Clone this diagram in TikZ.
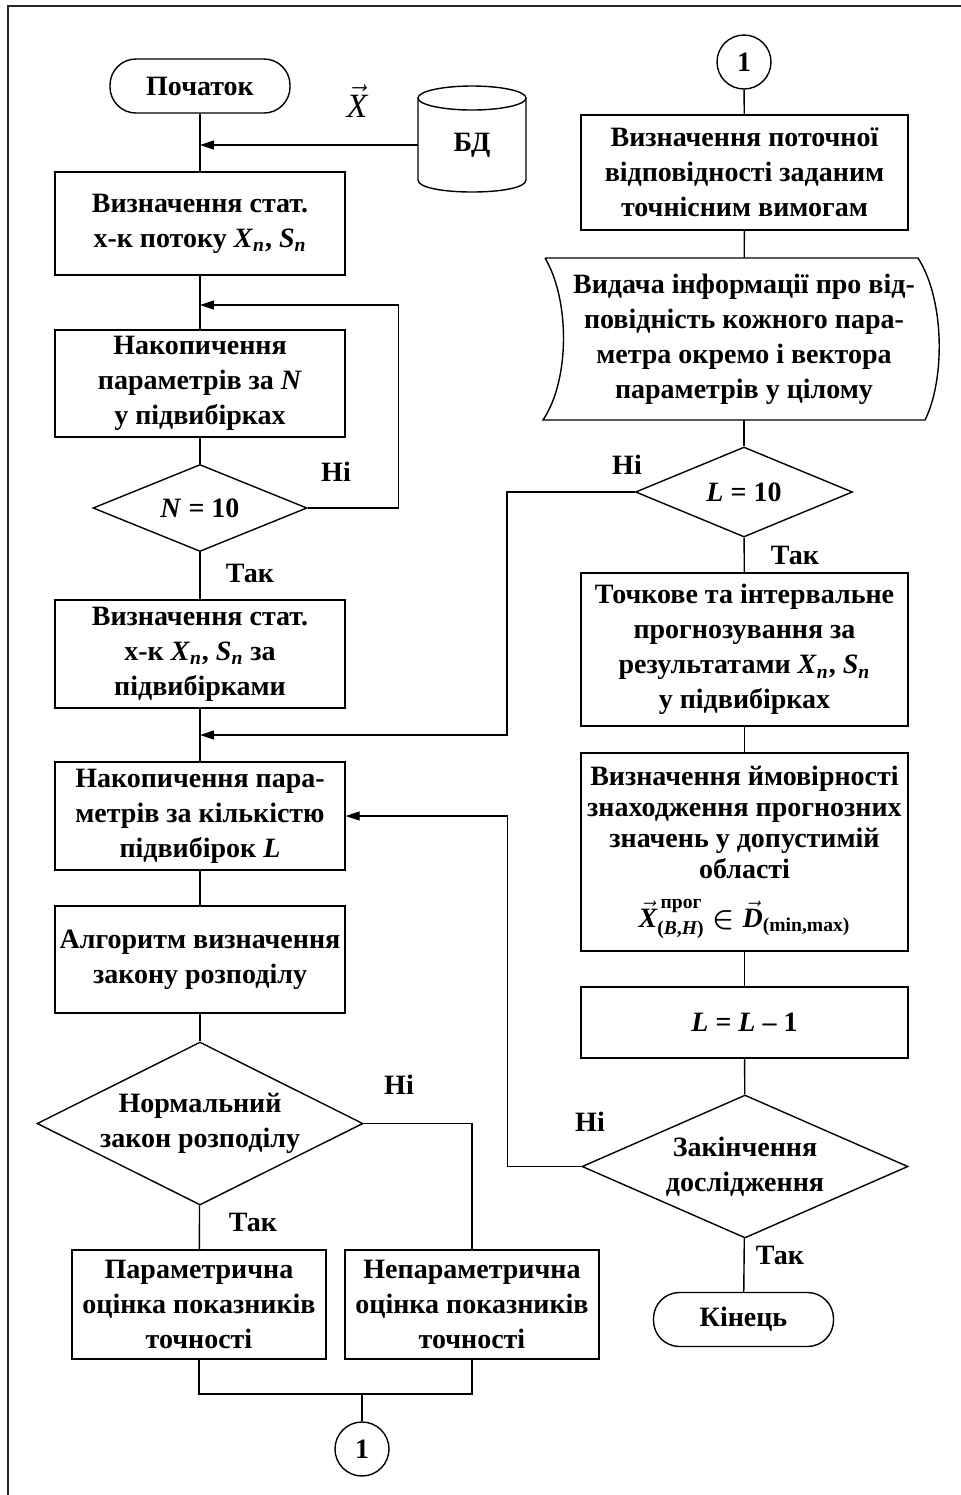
\documentclass[tikz,border=0pt]{standalone}
\usepackage{fontspec}
\setmainfont{Liberation Serif}
\usepackage{amsmath}
\usepackage{tikz}
\usetikzlibrary{arrows.meta,positioning,shapes.geometric}

\newcommand{\vsub}[2]{\textit{#1}\textsubscript{\textit{#2}}}

\begin{document}
\begin{tikzpicture}[
  x=0.5pt, y=-0.5pt,
  every node/.style={font=\fontsize{14}{17.5}\selectfont\bfseries},
  blk/.style={draw,line width=0.7pt,align=center,inner sep=1pt},
  lblk/.style={blk,minimum width=145pt},
  rblk/.style={blk,minimum width=163.5pt},
  term/.style={blk,rounded corners=13pt,minimum width=90pt,minimum height=27pt},
  dec/.style={blk,diamond,inner sep=0pt},
  dtxt/.style={align=center,inner sep=0pt},
  con/.style={blk,circle,minimum size=27pt,inner sep=0pt},
  line/.style={line width=0.7pt},
  arr/.style={line,-{Triangle[length=7pt,width=4.5pt]}},
  lab/.style={inner sep=0pt},
  frm/.style={line width=1pt,black!85}
]
\useasboundingbox (0,0) rectangle (960,1495);
\draw[frm] (8,1497) -- (8,6) -- (962,6);

% left column
\node[term] (start) at (200,86) {Початок};
\node[lblk,minimum height=51.5pt] (stat1) at (200,223.5)
  {Визначення стат.\\х-к потоку \vsub{X}{n}, \vsub{S}{n}};
\node[lblk,minimum height=53.5pt] (accN) at (200,383.5)
  {Накопичення\\параметрів за \textit{N}\\у підвибірках};
\node[dec,minimum width=107pt,minimum height=43.5pt,
  label={[dtxt]center:\textit{N} = 10}] (decN) at (200,508) {};
\node[lblk,minimum height=54pt] (stat2) at (200,654)
  {Визначення стат.\\х-к \vsub{X}{n}, \vsub{S}{n} за\\підвибірками};
\node[lblk,minimum height=54pt] (accL) at (200,816)
  {Накопичення пара-\\метрів за кількістю\\підвибірок \textit{L}};
\node[lblk,minimum height=53.5pt] (alg) at (200,959.5)
  {Алгоритм визначення\\закону розподілу};
\node[dec,minimum width=163pt,minimum height=81.5pt,
  label={[dtxt]center:Нормальний\\закон розподілу}] (decNorm) at (200,1123.5) {};
\node[blk,minimum width=127pt,minimum height=54.5pt] (par) at (199,1304.5)
  {Параметрична\\оцінка показників\\точності};
\node[blk,minimum width=127pt,minimum height=54.5pt] (nonpar) at (472,1304.5)
  {Непараметрична\\оцінка показників\\точності};
\node[con] (con2) at (362,1449) {1};

% data base
\node[minimum width=54pt,minimum height=47pt] (db) at (472,145) {БД};
\draw[line] (418,98) -- (418,180) .. controls (418,196) and (526,196) .. (526,180)
  -- (526,98);
\draw[line] (472,98) ellipse [x radius=54,y radius=12];
\node[font=\fontsize{17}{18}\selectfont,inner sep=0pt] (xvec) at (357,101)
  {$\vec{\text{\itshape X}}$};

% right column
\node[con] (con1) at (744,62) {1};
\node[rblk,minimum height=57.5pt] (curr) at (744.5,172.5)
  {Визначення поточної\\відповідності заданим\\точнісним вимогам};
\node[align=center,minimum width=175pt,minimum height=81pt,inner sep=0pt] (disp) at (744,339)
  {Видача інформації про від-\\повідність кожного пара-\\метра окремо і вектора\\параметрів у цілому};
\draw[line] (545,258) -- (918,258) .. controls (945,300) and (945,380) .. (925,420)
  -- (543,420) .. controls (570,380) and (570,300) .. (545,258);
\node[dec,minimum width=108.5pt,minimum height=45pt,
  label={[dtxt]center:\textit{L} = 10}] (decL) at (744,492) {};
\node[rblk,minimum height=76.5pt] (fcast) at (744.5,649.5)
  {Точкове та інтервальне\\прогнозування за\\результатами \vsub{X}{n}, \vsub{S}{n}\\у підвибірках};
\node[rblk,minimum height=99pt,font=\fontsize{14}{15.5}\selectfont\bfseries] (prob) at (744.5,852)
  {Визначення ймовірності\\знаходження прогнозних\\значень у допустимій\\області\\[9pt]
   $\vec{\text{\itshape X}}^{\,\text{прог}}_{\text{(\itshape B\upshape,\itshape H\upshape)}}
   \boldsymbol{\in} \vec{\text{\itshape D}}_{\text{(min,max)}}$};
\node[rblk,minimum height=35.5pt] (decr) at (744.5,1022.5)
  {\textit{L} = \textit{L} – 1};
\node[dec,minimum width=163pt,minimum height=71.5pt,
  label={[dtxt]center:Закінчення\\дослідження}] (decEnd) at (745,1166.5) {};
\node[term] (stop) at (743.5,1319.5) {Кінець};

% joins
\coordinate (jDB) at (200,145);
\coordinate (jN) at (200,305);
\coordinate (jL) at (200,735);
\coordinate (mg) at (362,1394);

% main flow
\draw[line] (start) -- (stat1);
\draw[line] (stat1) -- (accN);
\draw[line] (accN) -- (decN);
\draw[line] (decN) -- (stat2);
\draw[line] (stat2) -- (accL);
\draw[line] (accL) -- (alg);
\draw[line] (alg) -- (decNorm);
\draw[line] (decNorm) -- (par);
\draw[line] (decNorm.east) -| (nonpar.north);
\draw[line] (par.south) |- (mg) -| (nonpar.south);
\draw[line] (mg) -- (con2);

\draw[line] (con1) -- (curr);
\draw[line] (curr) -- (disp);
\draw[line] (disp) -- (decL);
\draw[line] (decL) -- (fcast);
\draw[line] (fcast) -- (prob);
\draw[line] (prob) -- (decr);
\draw[line] (decr) -- (decEnd);
\draw[line] (decEnd) -- (stop);

% loops
\draw[arr] (db.west) -- (jDB);
\draw[arr] (decN.east) -- ++(91,0) |- (jN);
\draw[arr] (decL.west) -- ++(-128,0) |- (jL);
\draw[arr] (decEnd.west) -- ++(-74,0) |- (accL.east);

% labels
\node[lab] (noN) at (336,472) {Ні};
\node[lab] (yesN) at (250,573) {Так};
\node[lab] (noL) at (627,465) {Ні};
\node[lab] (yesL) at (795,555) {Так};
\node[lab] (noNorm) at (399,1085) {Ні};
\node[lab] (yesNorm) at (253,1222) {Так};
\node[lab] (noEnd) at (590,1122) {Ні};
\node[lab] (yesEnd) at (780,1255) {Так};

\end{tikzpicture}
\end{document}
